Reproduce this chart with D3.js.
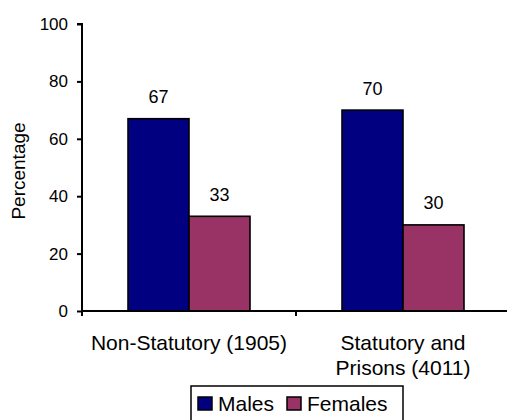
<!DOCTYPE html>
<html><head><meta charset="utf-8">
<script src="https://cdn.jsdelivr.net/npm/d3@7"></script>
<style>body{margin:0;background:#fff}svg{display:block}text{font-family:"Liberation Sans",Arial,sans-serif;fill:#000}</style>
</head><body><svg id="c" width="507" height="420"></svg>
<script>
const categories = [["Non-Statutory (1905)"], ["Statutory and", "Prisons (4011)"]];
const categoryKeys = ["Non-Statutory (1905)", "Statutory and Prisons (4011)"];
const seriesNames = ["Males", "Females"];
const males = [67, 70];
const females = [33, 30];
const colors = ["#000080", "#993366"];
const yTicks = [0, 20, 40, 60, 80, 100];

const svg = d3.select("#c");
const y = d3.scaleLinear().domain([0, 100]).range([311, 24]);
const x0 = d3.scaleBand().domain(categoryKeys).range([82, 510]).paddingInner(0.43).paddingOuter(0.215);
const x1 = d3.scaleBand().domain(seriesNames).range([0, x0.bandwidth()]);
const values = [males, females];

// bars
seriesNames.forEach((s, si) => {
  const g = svg.append("g");
  g.selectAll("rect").data(values[si]).join("rect")
    .attr("x", (d, i) => x0(categoryKeys[i]) + x1(s))
    .attr("y", d => y(d))
    .attr("width", x1.bandwidth())
    .attr("height", d => y(0) - y(d))
    .attr("fill", colors[si]).attr("stroke", "#000").attr("stroke-width", 1.6);
  g.selectAll("text").data(values[si]).join("text")
    .attr("x", (d, i) => x0(categoryKeys[i]) + x1(s) + x1.bandwidth() / 2)
    .attr("y", d => y(d) - 15.5)
    .attr("text-anchor", "middle").attr("font-size", 18).text(d => d);
});

// y axis
const ya = svg.append("g").attr("transform", "translate(82,0)")
  .call(d3.axisLeft(y).tickValues(yTicks).tickSize(5).tickPadding(9));
ya.select(".domain").attr("stroke", "#000").attr("stroke-width", 2).attr("d", `M-5,${y(100)}H0V${y(0)}`);
ya.selectAll(".tick line").attr("stroke", "#000").attr("stroke-width", 2);
ya.selectAll(".tick text").attr("font-size", 17).attr("font-family", "Liberation Sans, Arial, sans-serif").attr("fill", "#000");

// x axis
const xStep = x0.step();
const xa = svg.append("g").attr("transform", `translate(0,${y(0)})`);
xa.append("line").attr("x1", 82).attr("x2", 510).attr("y1", 0).attr("y2", 0).attr("stroke", "#000").attr("stroke-width", 2);
const xBounds = [82].concat(categoryKeys.map(k => x0(k) - x0.paddingOuter() * xStep + xStep));
xa.selectAll("line.t").data(xBounds).join("line").attr("class", "t")
  .attr("x1", d => d).attr("x2", d => d).attr("y1", 0).attr("y2", 5).attr("stroke", "#000").attr("stroke-width", 2);
categories.forEach((lines, i) => {
  const cx = x0(categoryKeys[i]) + x0.bandwidth() / 2;
  const t = svg.append("text").attr("text-anchor", "middle").attr("font-size", 21);
  lines.forEach((ln, j) => t.append("tspan").attr("x", cx).attr("y", 350 + j * 25).text(ln));
});

// y label
svg.append("text").attr("transform", "translate(25,171) rotate(-90)").attr("text-anchor", "middle")
  .attr("font-size", 19).text("Percentage");

// legend
const lg = svg.append("g");
lg.append("rect").attr("x", 191).attr("y", 386).attr("width", 212).attr("height", 40)
  .attr("fill", "#fff").attr("stroke", "#000").attr("stroke-width", 1.5);
const lx = [198, 287];
seriesNames.forEach((s, i) => {
  lg.append("rect").attr("x", lx[i]).attr("y", 397).attr("width", 14).attr("height", 13)
    .attr("fill", colors[i]).attr("stroke", "#000").attr("stroke-width", 1.5);
  lg.append("text").attr("x", lx[i] + 20).attr("y", 411).attr("font-size", 21).text(s);
});
</script></body></html>
